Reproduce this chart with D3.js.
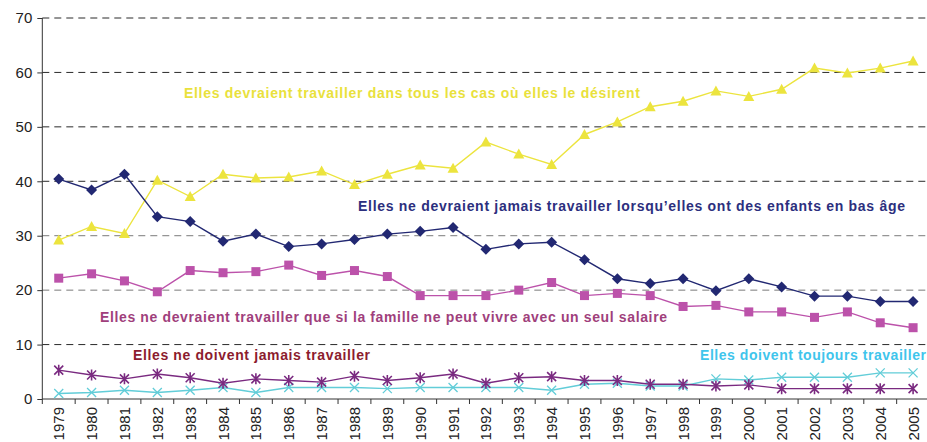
<!DOCTYPE html>
<html>
<head>
<meta charset="utf-8">
<script src="https://cdn.jsdelivr.net/npm/d3@7"></script>
<style>
  body { margin: 0; background: #fff; }
  svg { display: block; font-family: "Liberation Sans", Arial, sans-serif; }
</style>
</head>
<body>
<svg id="chart" width="927" height="442"></svg>
<script>
var years = [1979, 1980, 1981, 1982, 1983, 1984, 1985, 1986, 1987, 1988, 1989, 1990, 1991,
  1992, 1993, 1994, 1995, 1996, 1997, 1998, 1999, 2000, 2001, 2002, 2003, 2004, 2005];

// Elles devraient travailler dans tous les cas où elles le désirent
var tousLesCas = [29.2, 31.7, 30.4, 40.2, 37.2, 41.3, 40.6, 40.8, 41.9, 39.4, 41.3, 43.0, 42.4,
  47.2, 45.0, 43.1, 48.6, 50.9, 53.7, 54.7, 56.6, 55.6, 56.9, 60.8, 59.9, 60.8, 62.1];
// Elles ne devraient jamais travailler lorsqu'elles ont des enfants en bas âge
var enfantsBasAge = [40.4, 38.4, 41.3, 33.5, 32.6, 29.0, 30.3, 28.0, 28.5, 29.3, 30.3, 30.8, 31.5,
  27.5, 28.5, 28.8, 25.6, 22.1, 21.2, 22.1, 19.9, 22.1, 20.6, 18.9, 18.9, 17.9, 17.9];
// Elles ne devraient travailler que si la famille ne peut vivre avec un seul salaire
var seulSalaire = [22.2, 23.0, 21.7, 19.7, 23.6, 23.2, 23.4, 24.6, 22.7, 23.6, 22.5, 19.0, 19.0,
  19.0, 20.0, 21.4, 19.0, 19.4, 19.0, 17.0, 17.2, 16.0, 16.0, 15.0, 16.0, 14.0, 13.1];
// Elles ne doivent jamais travailler
var jamais = [5.3, 4.4, 3.7, 4.6, 3.9, 2.9, 3.7, 3.4, 3.1, 4.2, 3.4, 3.9, 4.6,
  2.9, 3.9, 4.1, 3.4, 3.4, 2.7, 2.7, 2.4, 2.6, 1.9, 1.9, 1.9, 1.9, 1.9];
// Elles doivent toujours travailler
var toujours = [1.0, 1.2, 1.6, 1.2, 1.6, 2.1, 1.2, 2.1, 2.1, 2.1, 1.9, 2.1, 2.1,
  2.1, 2.1, 1.6, 2.7, 2.9, 2.4, 2.4, 3.7, 3.5, 4.0, 4.0, 4.0, 4.8, 4.8];

var yTicks = [0, 10, 20, 30, 40, 50, 60, 70];

var series = [
  { name: "tousLesCas", values: tousLesCas, color: "#ECE43E", marker: "triangle" },
  { name: "enfantsBasAge", values: enfantsBasAge, color: "#222872", marker: "diamond" },
  { name: "seulSalaire", values: seulSalaire, color: "#BC52AA", marker: "square" },
  { name: "toujours", values: toujours, color: "#62CDD8", marker: "cross" },
  { name: "jamais", values: jamais, color: "#7A2A80", marker: "star" }
];

var labels = [
  { text: "Elles devraient travailler dans tous les cas où elles le désirent", x: 184, y: 98, len: 456, color: "#E9E13C" },
  { text: "Elles ne devraient jamais travailler lorsqu\u2019elles ont des enfants en bas âge", x: 358, y: 211, len: 547, color: "#2C2F7E" },
  { text: "Elles ne devraient travailler que si la famille ne peut vivre avec un seul salaire", x: 100, y: 322, len: 567, color: "#A03F7C" },
  { text: "Elles ne doivent jamais travailler", x: 133, y: 360, len: 237, color: "#8C1C2E" },
  { text: "Elles doivent toujours travailler", x: 700, y: 360, len: 226, color: "#3FC5EC" }
];

var svg = d3.select("#chart");
var plotLeft = 42.3, plotTop = 18, plotBottom = 399;

var x = d3.scaleBand().domain(years).range([plotLeft, plotLeft + 27 * 32.86]).padding(0);
var y = d3.scaleLinear().domain([0, 70]).range([plotBottom, plotTop]);
var cx = function (yr) { return x(yr) + x.bandwidth() / 2; };

// gridlines
svg.append("g")
  .selectAll("line")
  .data(yTicks.filter(function (d) { return d > 0; }))
  .enter().append("line")
  .attr("x1", plotLeft).attr("x2", 927)
  .attr("y1", function (d) { return y(d); })
  .attr("y2", function (d) { return y(d); })
  .attr("stroke", function (d) { return (d === 20 || d === 30) ? "#7a7a7a" : "#2a2a2a"; })
  .attr("stroke-width", 1)
  .attr("stroke-dasharray", "7,5");

// y axis
var yAxis = svg.append("g")
  .attr("transform", "translate(" + plotLeft + ",0)")
  .call(d3.axisLeft(y).tickValues(yTicks).tickSize(5).tickPadding(5));
yAxis.select(".domain").attr("stroke", "#333").attr("d", "M0," + plotTop + "V" + plotBottom);
yAxis.selectAll(".tick line").attr("stroke", "#333");
yAxis.selectAll("text").attr("font-size", 15).attr("fill", "#222")
  .attr("font-family", "Liberation Sans, Arial, sans-serif");

// x axis (baseline + tick marks at category boundaries)
var xg = svg.append("g");
xg.append("line")
  .attr("x1", plotLeft).attr("x2", 927)
  .attr("y1", plotBottom).attr("y2", plotBottom)
  .attr("stroke", "#333");
xg.selectAll("line.tk")
  .data(years)
  .enter().append("line")
  .attr("class", "tk")
  .attr("x1", function (d) { return x(d); })
  .attr("x2", function (d) { return x(d); })
  .attr("y1", plotBottom).attr("y2", plotBottom + 5)
  .attr("stroke", "#333");
xg.selectAll("text")
  .data(years)
  .enter().append("text")
  .attr("transform", function (d) { return "translate(" + (cx(d) + 5.5) + "," + (plotBottom + 8) + ") rotate(-90)"; })
  .attr("text-anchor", "end")
  .attr("font-size", 15)
  .attr("fill", "#222")
  .text(function (d) { return d; });

// lines and markers
var line = d3.line()
  .x(function (d, i) { return cx(years[i]); })
  .y(function (d) { return y(d); });

function drawMarker(g, type, color) {
  if (type === "diamond") {
    g.append("path").attr("d", "M0,-5.5L5.5,0L0,5.5L-5.5,0Z").attr("fill", color);
  } else if (type === "square") {
    g.append("rect").attr("x", -4.5).attr("y", -4.5).attr("width", 9).attr("height", 9).attr("fill", color);
  } else if (type === "triangle") {
    g.append("path").attr("d", "M0,-5.5L5.5,4.5L-5.5,4.5Z").attr("fill", color);
  } else if (type === "cross") {
    g.append("path").attr("d", "M-4.5,-4.5L4.5,4.5M-4.5,4.5L4.5,-4.5")
      .attr("stroke", color).attr("stroke-width", 1.3).attr("fill", "none");
  } else if (type === "star") {
    g.append("path").attr("d", "M-4.5,-4.5L4.5,4.5M-4.5,4.5L4.5,-4.5M0,-5.5L0,5.5")
      .attr("stroke", color).attr("stroke-width", 1.6).attr("fill", "none");
  }
}

series.forEach(function (s) {
  var g = svg.append("g").attr("class", s.name);
  g.append("path")
    .datum(s.values)
    .attr("d", line)
    .attr("fill", "none")
    .attr("stroke", s.color)
    .attr("stroke-width", 1.4);
  g.selectAll("g.m")
    .data(s.values)
    .enter().append("g")
    .attr("class", "m")
    .attr("transform", function (d, i) { return "translate(" + cx(years[i]) + "," + y(d) + ")"; })
    .each(function () { drawMarker(d3.select(this), s.marker, s.color); });
});

// series annotations
svg.append("g")
  .selectAll("text")
  .data(labels)
  .enter().append("text")
  .attr("x", function (d) { return d.x; })
  .attr("y", function (d) { return d.y; })
  .attr("textLength", function (d) { return d.len; })
  .attr("lengthAdjust", "spacing")
  .attr("font-size", 14)
  .attr("font-weight", "bold")
  .attr("fill", function (d) { return d.color; })
  .text(function (d) { return d.text; });
</script>
</body>
</html>
